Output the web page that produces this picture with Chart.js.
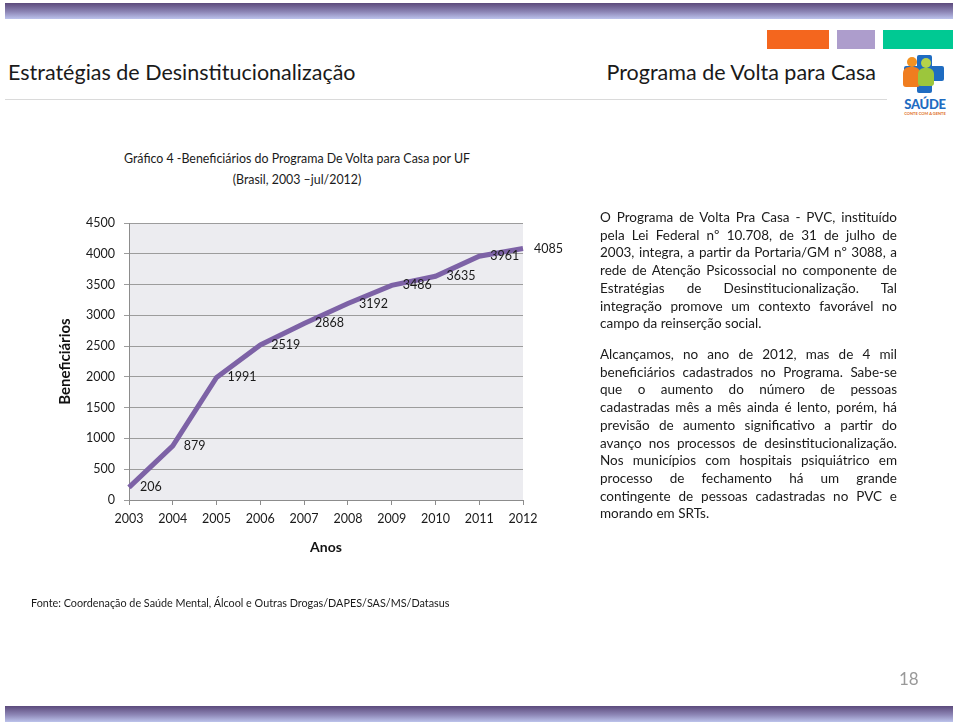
<!DOCTYPE html>
<html lang="pt-BR">
<head>
<meta charset="utf-8">
<title>Programa de Volta para Casa</title>
<script src="https://cdn.jsdelivr.net/npm/chart.js@4/dist/chart.umd.min.js"></script>
<style>
  html, body { margin: 0; padding: 0; background: #fff; }
  body { width: 959px; height: 723px; position: relative; overflow: hidden; font-family: Lato, sans-serif; color: #1a1a1a; }
  .abs { position: absolute; }
  .band { left: 5px; width: 948px; height: 16px; background: linear-gradient(#5c4a7c, #8d86b6 55%, #bcc3ec); }
  #chart-wrap { left: 0; top: 0; width: 959px; height: 723px; }
  .head { font-size: 21.5px; top: 59px; white-space: nowrap; }
  .ctitle { left: 97px; width: 400px; text-align: center; font-size: 12.4px; white-space: nowrap; }
  .para { left: 600px; width: 297px; font-size: 13.5px; line-height: 17.7px; }
  .para div { white-space: nowrap; text-align: justify; text-align-last: justify; }
  .para div.last { text-align-last: left; }
</style>
</head>
<body>
<div class="abs band" style="top:3px"></div>
<div class="abs band" style="top:706px"></div>

<div class="abs" style="left:767px;top:30px;width:62px;height:19px;background:#f4661e"></div>
<div class="abs" style="left:837px;top:30px;width:38px;height:19px;background:#ad9dcc"></div>
<div class="abs" style="left:883px;top:30px;width:70px;height:19px;background:#00c993"></div>
<div class="abs" style="left:5px;top:99px;width:882px;height:1px;background:#dadada"></div>

<div class="abs head" style="left:8px">Estratégias de Desinstitucionalização</div>
<div class="abs head" style="right:83px">Programa de Volta para Casa</div>

<!-- logo -->
<div class="abs" style="left:917px;top:55px;width:15px;height:38px;background:#1f6cc1;border-radius:2px"></div>
<div class="abs" style="left:904px;top:66px;width:40px;height:15px;background:#1f6cc1;border-radius:2px"></div>
<div class="abs" style="left:907px;top:57px;width:10px;height:10px;background:#f39222;border-radius:50%"></div>
<div class="abs" style="left:903px;top:67px;width:17px;height:20px;background:#f07d1f;border-radius:6px 6px 3px 3px"></div>
<div class="abs" style="left:921px;top:58px;width:10px;height:10px;background:#b6d34a;border-radius:50%"></div>
<div class="abs" style="left:918px;top:68px;width:16px;height:18px;background:#9cc63c;border-radius:6px 6px 3px 3px"></div>
<div class="abs" style="left:897px;top:96px;width:56px;text-align:center;font:900 13px Lato, sans-serif;color:#1f6cc1;letter-spacing:-0.3px">SAÚDE</div>
<div class="abs" style="left:897px;top:111px;width:56px;text-align:center;font:bold 4px Lato, sans-serif;color:#e0701c">CONTE COM A GENTE</div>

<div class="abs ctitle" style="top:151px">Gráfico 4 -Beneficiários do Programa De Volta para Casa por UF</div>
<div class="abs ctitle" style="top:172px">(Brasil, 2003 –jul/2012)</div>

<div class="abs" id="chart-wrap"><canvas id="chart" width="959" height="723"></canvas></div>

<div class="abs para" style="top:209px">
  <div>O Programa de Volta Pra Casa - PVC, instituído</div>
  <div>pela Lei Federal nº 10.708, de 31 de julho de</div>
  <div>2003, integra, a partir da Portaria/GM nº 3088, a</div>
  <div>rede de Atenção Psicossocial no componente de</div>
  <div>Estratégias de Desinstitucionalização. Tal</div>
  <div>integração promove um contexto favorável no</div>
  <div class="last">campo da reinserção social.</div>
</div>
<div class="abs para" style="top:346px">
  <div>Alcançamos, no ano de 2012, mas de 4 mil</div>
  <div>beneficiários cadastrados no Programa. Sabe-se</div>
  <div>que o aumento do número de pessoas</div>
  <div>cadastradas mês a mês ainda é lento, porém, há</div>
  <div>previsão de aumento significativo a partir do</div>
  <div>avanço nos processos de desinstitucionalização.</div>
  <div>Nos municípios com hospitais psiquiátrico em</div>
  <div>processo de fechamento há um grande</div>
  <div>contingente de pessoas cadastradas no PVC e</div>
  <div class="last">morando em SRTs.</div>
</div>

<div class="abs" style="left:31px;top:596px;font-size:10.8px;white-space:nowrap">Fonte: Coordenação de Saúde Mental, Álcool e Outras Drogas/DAPES/SAS/MS/Datasus</div>
<div class="abs" style="left:899px;top:668px;font-size:17px;color:#999">18</div>

<script>
const years = ['2003', '2004', '2005', '2006', '2007', '2008', '2009', '2010', '2011', '2012'];
const beneficiarios = [206, 879, 1991, 2519, 2868, 3192, 3486, 3635, 3961, 4085];
const yMin = 0;
const yMax = 4500;
const yStep = 500;

Chart.defaults.font.family = 'Lato, sans-serif';
Chart.defaults.color = '#1a1a1a';

// plot background + value labels right of each point
const plotDecor = {
  id: 'plotDecor',
  beforeDraw(chart) {
    const a = chart.chartArea;
    const ctx = chart.ctx;
    ctx.save();
    ctx.fillStyle = '#ececf0';
    ctx.fillRect(a.left, a.top, a.right - a.left, a.bottom - a.top);
    ctx.restore();
  },
  afterDatasetsDraw(chart) {
    const ctx = chart.ctx;
    const meta = chart.getDatasetMeta(0);
    ctx.save();
    ctx.font = '12.5px Lato, sans-serif';
    ctx.fillStyle = '#1a1a1a';
    ctx.textAlign = 'left';
    ctx.textBaseline = 'middle';
    meta.data.forEach((pt, i) => {
      ctx.fillText(String(beneficiarios[i]), pt.x + 11, pt.y);
    });
    ctx.restore();
  }
};

new Chart(document.getElementById('chart'), {
  type: 'line',
  data: {
    labels: years,
    datasets: [{
      label: 'Beneficiários',
      data: beneficiarios,
      borderColor: '#7d62a6',
      borderWidth: 5,
      pointRadius: 0,
      tension: 0,
      clip: false
    }]
  },
  options: {
    responsive: false,
    animation: false,
    layout: { padding: { left: 52, top: 223, right: 436, bottom: 163 } },
    plugins: { legend: { display: false }, tooltip: { enabled: false } },
    scales: {
      x: {
        offset: false,
        afterFit(scale) { scale.height = 60; },
        grid: { drawOnChartArea: false, drawTicks: true, tickLength: 5, color: '#8c8c8c' },
        border: { color: '#8c8c8c' },
        ticks: { font: { size: 12.5 }, padding: 6, maxRotation: 0, color: '#1a1a1a' },
        title: { display: true, text: 'Anos', font: { size: 14, weight: 'bold' }, color: '#111' }
      },
      y: {
        min: yMin,
        max: yMax,
        afterFit(scale) { scale.width = 77; },
        grid: { color: '#9c9c9c', tickLength: 5 },
        border: { color: '#8c8c8c' },
        ticks: {
          stepSize: yStep,
          font: { size: 12.5 },
          padding: 9,
          color: '#1a1a1a',
          callback: (v) => String(v)
        },
        title: { display: true, text: 'Beneficiários', font: { size: 15, weight: 'bold' }, color: '#111' }
      }
    }
  },
  plugins: [plotDecor]
});
</script>
</body>
</html>
